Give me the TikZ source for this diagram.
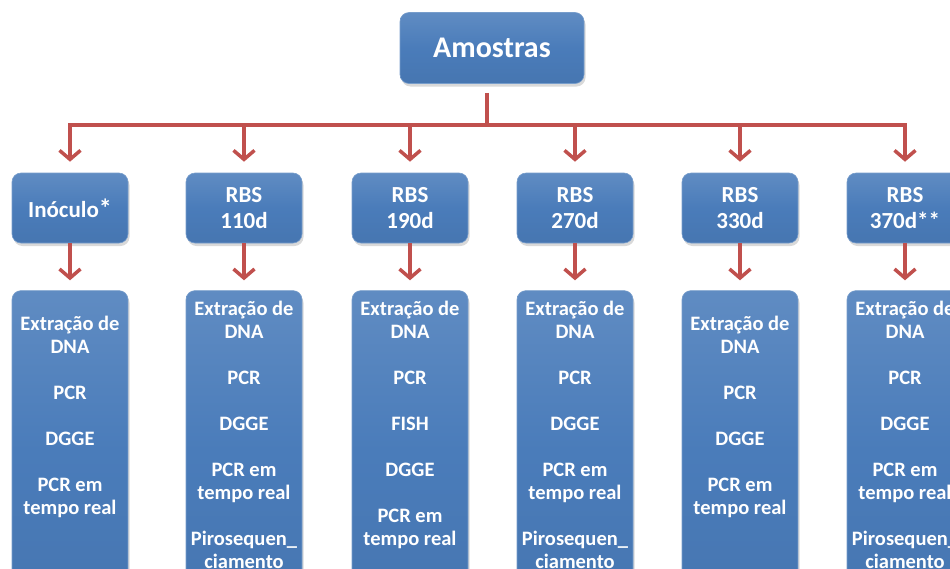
\documentclass[tikz,border=0pt]{standalone}
\usepackage{fontspec}
\setmainfont{Carlito}
\usepackage{tikz}
\usetikzlibrary{arrows.meta,positioning,shadows,calc}
\definecolor{boxblue}{RGB}{74,124,186}
\definecolor{linered}{RGB}{192,80,77}
\tikzset{
    line/.style   = {draw=linered, line width=3.5pt},
    arrow/.style  = {line, -{Straight Barb[length=9pt,width=21pt]}},
    block/.style  = {rounded corners=9pt, top color=boxblue!88!white,
            bottom color=boxblue!95!black, middle color=boxblue,
            draw=boxblue!75!white, line width=0.6pt,
            drop shadow={shadow xshift=1.5pt, shadow yshift=-3pt, opacity=0.3},
            text=white, align=center, inner sep=2pt},
    head/.style   = {block, minimum width=184pt, minimum height=71pt,
            font=\bfseries\fontsize{30}{36}\selectfont},
    sample/.style = {block, minimum width=116pt, minimum height=70pt,
            font=\bfseries\fontsize{23}{26}\selectfont},
    method/.style = {block, minimum width=116pt, minimum height=320pt, anchor=north},
    mtext/.style  = {text=white, align=center, anchor=north, inner sep=0pt,
            font=\bfseries\fontsize{20.5}{23}\selectfont},
}
\newcommand{\gap}{\\[23pt]}

\begin{document}
\begin{tikzpicture}[x=1pt,y=-1pt]
    \useasboundingbox (0,0) rectangle (950,568);
    \clip (0,0) rectangle (950,568);

    % top of the tree
    \node[head] (amostras) at (492,48) {Amostras};
    \coordinate (bus) at (487,125);

    % samples
    \node[sample] (s0) at (70,208)  {Inóculo{\fontsize{26}{26}\selectfont*}};
    \node[sample] (s1) at (244,208) {RBS\\110d};
    \node[sample] (s2) at (410,208) {RBS\\190d};
    \node[sample] (s3) at (575,208) {RBS\\270d};
    \node[sample] (s4) at (740,208) {RBS\\330d};
    \node[sample] (s5) at (905,208) {RBS\\370d**};

    % method boxes
    \foreach \i in {0,...,5}
        \node[method] (m\i) at ($(s\i.south)+(0,47)$) {};

    % method texts
    \node[mtext] (t0) at (70,316)  {Extração de\\DNA\gap PCR\gap DGGE\gap PCR em\\tempo real};
    \node[mtext] (t1) at (244,301) {Extração de\\DNA\gap PCR\gap DGGE\gap PCR em\\tempo real\gap Pirosequen\_\\ciamento};
    \node[mtext] (t2) at (410,301) {Extração de\\DNA\gap PCR\gap FISH\gap DGGE\gap PCR em\\tempo real};
    \node[mtext] (t3) at (575,301) {Extração de\\DNA\gap PCR\gap DGGE\gap PCR em\\tempo real\gap Pirosequen\_\\ciamento};
    \node[mtext] (t4) at (740,316) {Extração de\\DNA\gap PCR\gap DGGE\gap PCR em\\tempo real};
    \node[mtext] (t5) at (905,301) {Extração de\\DNA\gap PCR\gap DGGE\gap PCR em\\tempo real\gap Pirosequen\_\\ciamento};

    % connectors
    \draw[line, shorten <=9pt] (amostras.south -| bus) -- (bus);
    \draw[line, line cap=rect] (s0 |- bus) -- (s5 |- bus);
    \foreach \i in {0,...,5} {
        \draw[arrow, shorten >=11pt] (s\i |- bus) -- (s\i.north);
        \draw[arrow, shorten >=10pt] (s\i.south) -- (m\i.north);
    }
\end{tikzpicture}
\end{document}
